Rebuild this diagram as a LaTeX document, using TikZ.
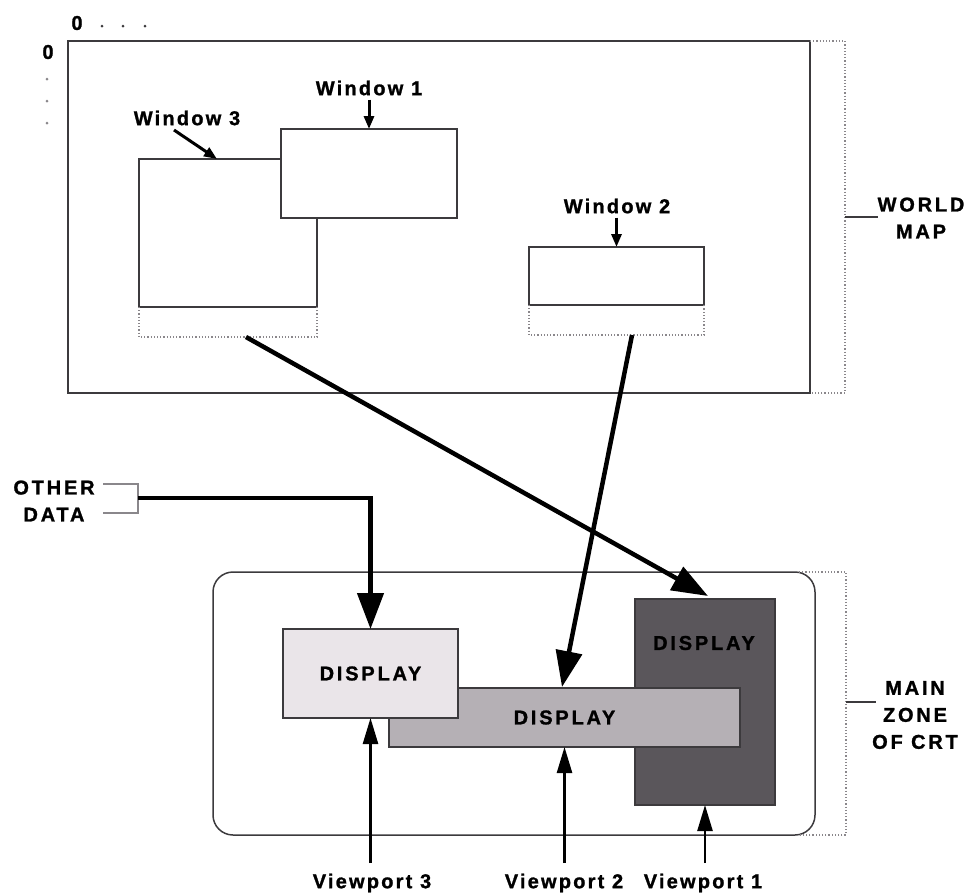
\documentclass[tikz,border=0pt]{standalone}
\usepackage{fontspec}
\setmainfont{Liberation Sans}
\newfontfamily\lblfont{Liberation Sans Bold}[LetterSpace=11,FakeBold=1.2]
\newfontfamily\capsfont{Liberation Sans Bold}[LetterSpace=14,FakeBold=1.2]
\usetikzlibrary{arrows.meta}
\definecolor{edge}{HTML}{3C3A3D}
\definecolor{dotc}{HTML}{8A878B}
\definecolor{dlight}{HTML}{EAE5E9}
\definecolor{dmid}{HTML}{B5B0B5}
\definecolor{ddark}{HTML}{5A565B}
\tikzset{
  frame/.style={draw=edge, line width=1.5pt, inner sep=0pt, outer sep=0pt, anchor=north west},
  winbox/.style={frame, fill=white},
  dispbox/.style={draw=edge, line width=1.2pt, inner sep=0pt, outer sep=0pt, anchor=north west},
  dots/.style={draw=dotc, line width=1.2pt, dash pattern=on 1.2pt off 2pt},
  thinline/.style={draw=edge, line width=1.3pt},
  bigarrow/.style={line width=4.5pt, -{Triangle[length=36pt,width=26pt]}},
  vparrow/.style={line width=2.5pt, -{Triangle[length=26pt,width=15pt]}},
  lblarrow/.style={line width=3pt, -{Triangle[length=13pt,width=10pt]}},
  lbl/.style={font=\lblfont\fontsize{20}{25}\selectfont, inner sep=0pt, align=center},
  caps/.style={font=\capsfont\fontsize{20}{27}\selectfont, inner sep=0pt, align=center},
}
\begin{document}
\begin{tikzpicture}[x=1pt,y=-1pt]
\useasboundingbox (0,0) rectangle (977,892);
% axes hints
\node[caps] (zx) at (77,23) {0};
\node[caps] (zy) at (48,52) {0};
\foreach \p in {102,123,145} \fill[edge] (\p,26) circle (1.5pt);
\foreach \p in {79,101,123} \fill[dotc] (47,\p) circle (1.5pt);
% world map
\node[frame, minimum width=742pt, minimum height=352pt] (world) at (68,41) {};
\coordinate (wb1) at (845,41);
\coordinate (wb2) at (845,393);
\draw[dots] (world.north east) -- (wb1) -- (wb2) -- (world.south east);
\coordinate (wt) at (845,217);
\draw[thinline] (wt) -- ++(33,0);
\node[caps] (wm) at (921,218) {WORLD\\MAP};
% windows
\node[winbox, minimum width=178pt, minimum height=148pt] (w3) at (139,159) {};
\draw[dots] (w3.south west) -- ++(0,30) coordinate (w3b) -| (w3.south east);
\node[winbox, minimum width=176pt, minimum height=89pt] (w1) at (281,129) {};
\node[winbox, minimum width=175pt, minimum height=58pt] (w2) at (529,247) {};
\draw[dots] (w2.south west) -- ++(0,30) coordinate (w2b) -| (w2.south east);
\node[lbl] (l3) at (187,118) {Window 3};
\node[lbl] (l1) at (369,88) {Window 1};
\node[lbl] (l2) at (617,206) {Window 2};
\coordinate (l3s) at (174,130);
\coordinate (l3e) at (217,159);
\draw[lblarrow] (l3s) -- (l3e);
\draw[lblarrow] (w1.north |- l1.south) ++(0,4) -- (w1.north);
\draw[lblarrow] (w2.north |- l2.south) ++(0,4) -- (w2.north);
% CRT
\node[frame, rounded corners=20pt, minimum width=602pt, minimum height=263pt] (crt) at (213,572) {};
\coordinate (cb1) at (846,572);
\coordinate (cb2) at (846,835);
\draw[dots] ([xshift=-16pt]crt.north east) -- (cb1) -- (cb2) -- ([xshift=-16pt]crt.south east);
\coordinate (ct) at (846,702);
\draw[thinline] (ct) -- ++(30,0);
\node[caps] (mz) at (915,715) {MAIN\\ZONE\\OF CRT};
% displays
\node[dispbox, fill=ddark, minimum width=140pt, minimum height=206pt] (d3) at (635,599) {};
\node[dispbox, fill=dmid, minimum width=351pt, minimum height=59pt] (d2) at (389,688) {};
\node[dispbox, fill=dlight, minimum width=175pt, minimum height=89pt] (d1) at (283,629) {};
\node[caps] (t1) at (d1.center) {DISPLAY};
\node[caps] (t2) at (d2.center) {DISPLAY};
\node[caps] (t3) at (704,643) {DISPLAY};
% other data
\coordinate (oa) at (103,484);
\coordinate (ob) at (138,484);
\coordinate (oc) at (138,513);
\coordinate (od) at (103,513);
\draw[thinline, draw=dotc] (oa) -- (ob) -- (oc) -- (od);
\coordinate (os) at (138,498);
\node[caps] (other) at (54,501) {OTHER\\DATA};
\draw[bigarrow] (os) -| (d1.north);
% mapping arrows
\coordinate (a1s) at (246,337);
\coordinate (a1e) at (708,596);
\draw[bigarrow] (a1s) -- (a1e);
\coordinate (a2s) at (632,335);
\coordinate (a2e) at (562,687);
\draw[bigarrow] (a2s) -- (a2e);
% viewports
\node[lbl] (v3) at (372,883) {Viewport 3};
\node[lbl] (v2) at (564,883) {Viewport 2};
\node[lbl] (v1) at (703,883) {Viewport 1};
\draw[vparrow] (d1.south |- 0,863) -- (d1.south);
\draw[vparrow] (d2.south |- 0,863) -- (d2.south);
\draw[vparrow] (d3.south |- 0,863) -- (d3.south);
\end{tikzpicture}
\end{document}
